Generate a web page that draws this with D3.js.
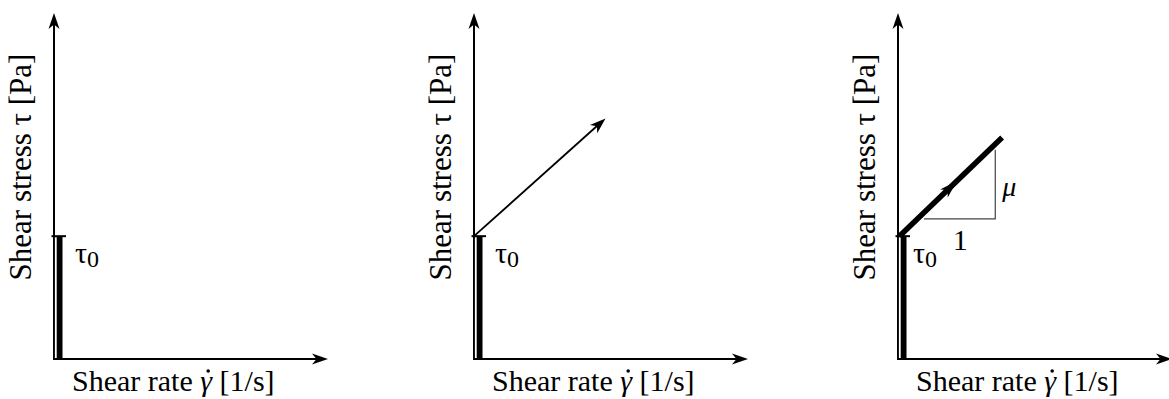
<!DOCTYPE html>
<html>
<head>
<meta charset="utf-8">
<script src="https://d3js.org/d3.v7.min.js"></script>
</head>
<body style="margin:0">
<script>
    // data (arbitrary units, axis domain 0..10)
    var panelNames = ["rigid", "bingham", "bingham-slope"];
    var yieldStress = 3.55;
    var flowLine2 = [[0, 3.55], [4.8, 6.95]];
    var flowLine3 = [[0.05, 3.55], [3.8, 6.4]];
    var slopeTriangle = [[0.95, 4.05], [3.55, 4.05], [3.55, 6.05]];
    var xLabel = "Shear rate ";
    var yLabel = "Shear stress \u03c4 [Pa]";

    var width = 1169, height = 399;
    var origins = [54, 474, 898];   // y axis position of each panel
    var axisLen = 274, y0 = 359, yTop = 13;

    var svg = d3.select("body").append("svg")
        .attr("width", width)
        .attr("height", height)
        .style("font-family", "'Liberation Serif', serif", "important");

    var line = d3.line();

    function arrowHead(g, x, y, angle, L, W) {
        g.append("path")
            .attr("d", "M0,0 L" + (-L) + "," + (-W / 2) + " L" + (-L * 0.72) + ",0 L" + (-L) + "," + (W / 2) + "Z")
            .attr("transform", "translate(" + x + "," + y + ") rotate(" + angle + ")")
            .attr("fill", "#000");
    }

    function label(g) {
        return g.append("text")
            .style("font-family", "'Liberation Serif', serif", "important")
            .attr("fill", "#000");
    }

    panelNames.forEach(function (name, i) {
        var ox = origins[i];
        var x = d3.scaleLinear().domain([0, 10]).range([ox, ox + axisLen]);
        var y = d3.scaleLinear().domain([0, 10]).range([y0, yTop]);
        var g = svg.append("g").attr("class", name);

        // axes
        g.append("path").attr("d", line([[x(0), y(0)], [x(0), y(10) + 6]]))
            .attr("stroke", "#000").attr("stroke-width", 2).attr("fill", "none");
        g.append("path").attr("d", line([[x(0) - 1, y(0)], [x(10) - 6, y(0)]]))
            .attr("stroke", "#000").attr("stroke-width", 2).attr("fill", "none");
        arrowHead(g, x(0), y(10), -90, 16, 11);
        arrowHead(g, x(10), y(0), 0, 16, 11);

        // yield segment: thick bar with a thin white gap next to the axis
        g.append("path").attr("d", line([[x(0) + 4, y(0)], [x(0) + 4, y(yieldStress)]]))
            .attr("stroke", "#000").attr("stroke-width", 9).attr("fill", "none");
        g.append("path").attr("d", line([[x(0) + 1.8, y(0) - 1], [x(0) + 1.8, y(yieldStress) + 1]]))
            .attr("stroke", "#fff").attr("stroke-width", 1.8).attr("fill", "none");
        g.append("path").attr("d", line([[x(0) - 2.5, y(yieldStress)], [x(0) + 12, y(yieldStress)]]))
            .attr("stroke", "#000").attr("stroke-width", 2).attr("fill", "none");

        // tau_0 label
        var t0 = label(g)
            .attr("x", x(0) + (i == 2 ? 15 : 21))
            .attr("y", y(yieldStress) + 27)
            .attr("font-size", 30);
        t0.append("tspan").text("\u03c4");
        t0.append("tspan").attr("dy", 4).attr("font-size", 24).text("0");

        // x label, gamma with an overdot
        var xl = label(g)
            .attr("x", x(0) + 18)
            .attr("y", 391)
            .attr("font-size", 30);
        xl.append("tspan").text(xLabel);
        xl.append("tspan").attr("font-style", "italic").text("\u03b3");
        xl.append("tspan").text(" [1/s]");
        var gi = xLabel.length;
        var gs = xl.node().getStartPositionOfChar(gi).x;
        var ge = xl.node().getEndPositionOfChar(gi).x;
        g.append("circle")
            .attr("cx", (gs + ge) / 2 + 2)
            .attr("cy", 391 - 20)
            .attr("r", 1.8)
            .attr("fill", "#000");

        label(g)
            .attr("transform", "translate(" + (x(0) - 23) + "," + 167 + ") rotate(-90)")
            .attr("text-anchor", "middle")
            .attr("font-size", 31)
            .text(yLabel);

        if (i == 1) {
            var p = flowLine2.map(function (d) { return [x(d[0]), y(d[1])]; });
            g.append("path").attr("d", line([p[0], [p[1][0] - 8, p[1][1] + 7]]))
                .attr("stroke", "#000").attr("stroke-width", 1.8).attr("fill", "none");
            var ang = Math.atan2(p[1][1] - p[0][1], p[1][0] - p[0][0]) * 180 / Math.PI;
            arrowHead(g, p[1][0], p[1][1], ang, 16, 11);
        }

        if (i == 2) {
            var q = flowLine3.map(function (d) { return [x(d[0]), y(d[1])]; });
            var tri = slopeTriangle.map(function (d) { return [x(d[0]), y(d[1])]; });
            g.append("path").attr("d", line(tri))
                .attr("stroke", "#444").attr("stroke-width", 1.2).attr("fill", "none");
            g.append("path").attr("d", line(q))
                .attr("stroke", "#000").attr("stroke-width", 5.5).attr("fill", "none");
            var a3 = Math.atan2(q[1][1] - q[0][1], q[1][0] - q[0][0]) * 180 / Math.PI;
            var mx = q[0][0] + (q[1][0] - q[0][0]) * 0.56, my = q[0][1] + (q[1][1] - q[0][1]) * 0.56;
            arrowHead(g, mx, my, a3, 18, 11);

            label(g)
                .attr("x", tri[2][0] + 7)
                .attr("y", (tri[1][1] + tri[2][1]) / 2 + 12)
                .attr("font-size", 28)
                .attr("font-style", "italic")
                .text("\u03bc");
            label(g)
                .attr("x", (tri[0][0] + tri[1][0]) / 2 - 7)
                .attr("y", tri[0][1] + 31)
                .attr("font-size", 30)
                .text("1");
        }
    });
</script>
</body>
</html>
